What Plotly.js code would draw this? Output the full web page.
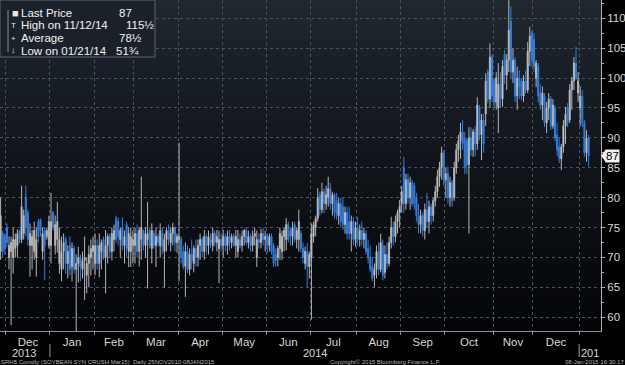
<!DOCTYPE html>
<html><head><meta charset="utf-8">
<script src="https://cdn.plot.ly/plotly-3.0.1.min.js"></script>
<style>html,body{margin:0;padding:0;background:#000;}#chart{width:625px;height:365px;}</style>
</head><body><div id="chart"></div>
<script>
// Daily OHLC rows [open, high, low, close], one named array per month
const nov2013 = [[72,76,70,74],[71,80,69.6,77],[74,74.5,70,71],[73.5,74,70.5,71.5]];
const dec2013 = [[75,75.7,71.7,72.5],[70,73.5,68,72],[71,73.5,58.7,72.5],[70,75,67.3,73],[71.5,74,70,73],[72,74.7,70,74],[74.5,74.7,72.4,73],[73,82,72.4,78.5],[74,78,73,77],[80,82,73.5,75],[77.5,78,72,73],[72,75.7,66.8,74],[72,74.6,68,73.5],[71,76,69.6,74.5],[70,75,66.8,73],[76,76.5,72.5,73.5],[76.3,76.5,73.5,74.5],[71,75,69.6,74],[74.5,75,66.2,72],[73.5,75,73,74.5],[72,77,71.5,76]];
const jan2014 = [[72,80.8,69,76],[77.5,77.8,74.5,75],[72,77,70.5,75.5],[73,79.3,70.8,76],[69,75,67.3,73],[68,73.5,66,71],[71,74,68,72.5],[73,73.5,67.3,69],[69,72,66.5,71],[72,73.5,67,68],[68.5,72.5,66,71.5],[71.5,72,67.3,68],[68,70.5,51.75,69],[69,71.8,65.8,70],[70,70.5,66,68.5],[68,71,66.5,69.5],[69.5,73.5,62.9,70],[67,70,64,69],[69,72,65,70.5],[70,73,67,71.5],[71,73.5,68,72]];
const feb2014 = [[69,74,67,72],[72,73,68,69],[69,74,66.7,72],[71,73,68,72.5],[73,73.5,69.6,70],[70,74.6,64,72],[72,74,69,73.5],[73.5,74,70,71],[71,75,69.5,74],[73,75.5,71,74.5],[76.5,77,72.4,73],[76,76.7,72,73.5],[73,75,70,74.5],[75,76.7,71.2,72],[72,74.5,69,73.5],[75.5,76,70,71.5],[71,75,68.4,74],[71,75,68.4,73.5],[72,74.5,69,73]];
const mar2014 = [[72,75,69,74],[74,75.5,70,71],[71,75,68.5,74.5],[73,83.5,69.6,75],[74.5,74.6,71.2,72],[72,75,70,74],[73,79.3,64.8,74],[74.5,75,71.5,72],[71.5,75.7,69,74.5],[74,74.5,71.5,72],[72,75,68.4,73.5],[73.5,74,71.8,72.5],[72,75.7,70,74.5],[74,75,70.5,71.8],[71,74,65,73],[73,75,71,74.5],[74.5,75.5,72,73],[72.5,75,71,74],[74,75.8,72,75],[75,75.2,71,72.5],[72.5,74,70.8,73.5]];
const apr2014 = [[73,89.2,66,73.5],[73,73.5,69,70],[71,72,68,68.5],[68.5,72.5,63.4,71],[71,72,67.4,68],[68,71.5,67,70.5],[70.5,73,68,69.5],[69,72,67.5,71.5],[71.5,73,68.5,70],[70,73,68.5,72],[72,74,69.6,73],[73,73.5,70,71],[71,74.6,69.6,73.5],[73.5,74,70.5,72],[72,74.5,70.5,73.5],[73,74,71.5,72.5],[72,75,71,74],[74,74.5,71.8,72.5],[72.5,74.6,71,73.5],[71.5,74.5,65.7,73],[73,74,71,72]];
const may2014 = [[72,74.6,70,73.5],[73.5,74,71,72],[72,74.5,70.5,73.5],[73.5,74.6,71.2,72.5],[72.5,74,71.5,73.5],[73.5,74,71.8,72],[72,74.6,70,73.5],[71,74.6,70,73],[73,74,71.5,72],[72,74.5,71,73.5],[73.5,74.8,72,74.5],[74.5,75,72,72.5],[72.5,74.5,71.5,73.5],[73.5,74,71,72],[72,74.5,71,73.5],[73.5,75,72,74],[70,74.5,68.4,73],[73,74,71.5,72.5],[72.5,74.8,71.5,74],[74,75,72,73],[73,74.5,71,73.5]];
const jun2014 = [[73.5,74,70.7,72],[72,74,71,73.5],[73.5,74,70.5,71],[72,72.4,68.4,69],[70.5,71.5,68.5,69.5],[70,72,68.5,71.5],[71.5,75,69.6,74],[71,74.5,69.6,73.5],[73.5,75,71,74.5],[73,76.6,71.2,75.5],[75.5,76,72.5,73],[74.5,75,72,73.5],[73.5,76,72,75],[75.5,76,72.5,73],[73,75,71.5,74.5],[73,78,71,76],[74,74.5,70.8,71.5],[71.5,72.5,69,70],[69,71.8,68,71],[71,72.4,65,68.5],[68.5,71,66.5,70.5]];
const jul2014 = [[70,75.7,59.6,74],[73.5,76,72.5,75.5],[75,77,73.5,76.5],[76.5,81.6,76,80],[80.5,81,77,78],[78,82.5,77.4,81],[81,81.5,77.4,79],[79,82,78,80.5],[80,83.5,78.5,81.5],[81.5,82.5,78,79],[79,81,77,80.5],[80.5,80.8,76.5,77.5],[79.5,80.8,76.3,77],[77,80,75.5,79],[79,80,75,76],[78.5,80,74.6,75.5],[75.5,78.5,74,77.5],[77.5,78.5,73,74],[76,78.5,73,74],[74,77,71,76],[76,76.8,72,73],[73,76,71.8,75]];
const aug2014 = [[75,76.8,72,73],[73,75.5,71.8,74.5],[74.5,76,72,73],[73,75,71.5,74],[74,74.5,70.5,71],[71.5,73,69,70],[70,72,67.5,68],[68.5,70,66,66.5],[67,69,65,68],[68,72,66.5,71],[71,72.5,67,68],[68,74,67.5,72.5],[72,73,66.2,67],[67.5,72,66.5,70.5],[70.5,72.5,68,69],[69,73.5,68.5,72.5],[72.5,76.8,71.5,75],[75,76,72,73.5],[73.5,77,72.5,76],[76,78,74,77.5],[77.5,79.6,75,78.5]];
const sep2014 = [[79,82,77.5,81],[85,86.8,77.4,79],[79,84,78,83],[83,84,79,80],[80,83.5,78,82.5],[82.5,83,78.5,79],[82,82.5,78,79],[80,80.8,76,77],[77,79,74,75.5],[75.5,78,74,77],[77,77.5,73.5,74.5],[74.5,79,73,78],[78,80.8,75,76],[76,79.5,74,78.5],[78.5,79,75.5,77],[77,80,76,79.5],[79.5,82,78.5,81],[81,84.6,80,83.5],[83.5,86,81.8,85],[85,88.5,83,87.5],[87.5,88,82,83]];
const oct2014 = [[83,85,80,84],[84,85.2,79,80],[80,83.5,78.5,82.5],[82.5,83,78.5,79.5],[80,86,79.5,85],[85,89,84,88],[88,90.5,86,89.5],[89.5,92.5,86.5,91],[91,93,88,89],[90,91,84,85],[89.5,90,84,85.5],[85.5,91.8,74,90],[90,91.8,87,88],[88,91.5,86.8,91],[91,92,87,89],[89,96.8,88,95.5],[95,95.5,89.6,90.5],[90.5,94,86.3,93],[93,94,87.5,89],[94,100.8,92,99.5],[101,101.5,95.8,96.5],[96.5,105.8,95,103.5],[103.5,104,96,97]];
const nov2014 = [[99.5,100,95,96],[96,101,94.7,100],[95,102.5,90.8,99],[99,101,95,96.5],[96.5,103,95.2,102],[104,104.7,99,100.5],[100.5,104,98,103],[103,115.5,101,108],[109.5,112,100,101],[101,105,99.2,103],[103,103.5,96,97],[97,101.9,94.7,100],[100,101.3,96.5,98.5],[99.5,100,96.3,97],[97,100.5,96,99.5],[99.5,101.3,97.5,98],[98,106,97.5,104.5],[104.5,108.6,102,107],[107.5,108,101.9,103]];
const dec2014 = [[106.5,107.5,101,102],[100,103,98.5,102.5],[102,102.5,96,97],[97.5,99,94.7,95.5],[95.5,98.6,93,97.5],[97,97.5,91.8,92.5],[92.5,96,90.8,95],[95,97.5,93,96.5],[96.5,97,91.3,92],[92,96.5,91.5,95.5],[95,95.5,89.5,90],[90.5,92.5,87,88],[88.5,90,85.8,86.5],[86.5,89,84.6,88.5],[88.5,93,87.5,92],[92,95.2,89,94],[95,95.8,91.8,92.5],[93,99,92.5,98],[98,100.2,94.7,99.5],[99.5,103.5,98,102.5],[102.5,105.2,99.7,100],[97.5,101,96,99.5]];
const jan2015 = [[95,98.6,92,97],[97,98,91.8,92.5],[92.5,93,86.8,87.5],[87.5,91.3,86,90],[90,90.5,85.2,87]];

const monthData   = [nov2013, dec2013, jan2014, feb2014, mar2014, apr2014, may2014, jun2014, jul2014, aug2014, sep2014, oct2014, nov2014, dec2014, jan2015];
const monthLabels = ['', 'Dec', 'Jan', 'Feb', 'Mar', 'Apr', 'May', 'Jun', 'Jul', 'Aug', 'Sep', 'Oct', 'Nov', 'Dec', ''];
const yearLabels  = ['2013', '2014', '201'];
const yearFirstMonth = [0, 2, 14];   // index into monthData where each year starts
const lastPrice = 87;
const legendRows = [
  {icon: '\u25A0', label: 'Last Price', value: '87'},
  {icon: 'T', label: 'High on 11/12/14', value: '115\u00BD'},
  {icon: '+', label: 'Average', value: '78\u00BD'},
  {icon: '\u2193', label: 'Low on 01/21/14', value: '51\u00BE'}
];
const footerLeft = 'SRH5 Comdty (SOYBEAN SYN CRUSH Mar15)  Daily 25NOV2010-08JAN2015';
const footerMid = 'Copyright\u00A9 2015 Bloomberg Finance L.P.';
const footerRight = '08-Jan-2015 16:30:17';

// build series (trading-day index as x)
const X = [], O = [], H = [], L = [], C = [], starts = [];
let idx = 0;
monthData.forEach(m => { starts.push(idx); m.forEach(r => { X.push(idx); O.push(r[0]); H.push(r[1]); L.push(r[2]); C.push(r[3]); idx++; }); });
const nDays = idx;
const ends = starts.map((s, k) => (k + 1 < starts.length ? starts[k + 1] : nDays));

const PW = 601, PH = 331;
const pxX = p => p / PW;           // pixel -> paper x
const pxY = p => 1 - p / PH;       // pixel -> paper y
const FONT = 'Liberation Sans, Arial, sans-serif';

const shapes = [];
// plot background gradient
const NB = 40;
for (let k = 0; k < NB; k++) {
  const t = (k + 0.5) / NB; // 0 bottom -> 1 top
  const c0 = [4, 5, 8], c1 = [31, 39, 48];
  const f = Math.pow(t, 1.1);
  const col = c0.map((v, j) => Math.round(v + (c1[j] - v) * f));
  shapes.push({type: 'rect', xref: 'paper', yref: 'paper', x0: 0, x1: 1, y0: k / NB, y1: (k + 1) / NB + 0.002,
    fillcolor: `rgb(${col.join(',')})`, line: {width: 0}, layer: 'below'});
}
// legend box
shapes.push({type: 'rect', xref: 'paper', yref: 'paper', x0: 0, x1: pxX(155), y0: pxY(57), y1: 1,
  fillcolor: '#1b2129', line: {color: '#5d6873', width: 1}, layer: 'above'});
shapes.push({type: 'line', xref: 'paper', yref: 'paper', x0: pxX(8), x1: pxX(8), y0: pxY(10), y1: pxY(52),
  line: {color: '#8a8f96', width: 1}, layer: 'above'});
// year separators
yearFirstMonth.slice(1).forEach(mi => {
  shapes.push({type: 'line', xref: 'x', yref: 'paper', x0: starts[mi] - 0.5, x1: starts[mi] - 0.5,
    y0: pxY(344), y1: pxY(357), line: {color: '#9a9a9a', width: 1}});
});
// last price tag pointer
shapes.push({type: 'path', xref: 'paper', yref: 'y',
  path: `M 1.0,${lastPrice} L ${pxX(606)},${lastPrice + 1.1} L ${pxX(606)},${lastPrice - 1.1} Z`,
  fillcolor: '#f2f2f2', line: {width: 0}});

const annotations = [];
// year labels
yearLabels.forEach((t, k) => {
  const s = starts[yearFirstMonth[k]];
  const e = k + 1 < yearFirstMonth.length ? starts[yearFirstMonth[k + 1]] : null;
  if (e !== null) {
    annotations.push({xref: 'x', yref: 'paper', x: (s + e) / 2 - 0.5, y: pxY(352.5), text: t, showarrow: false,
      xanchor: 'center', yanchor: 'middle', borderpad: 0, font: {family: FONT, size: 11, color: '#d6d6d6'}});
  } else {
    annotations.push({xref: 'x', yref: 'paper', x: s - 0.5, xshift: 1, y: pxY(352.5), text: t, showarrow: false,
      xanchor: 'left', yanchor: 'middle', borderpad: 0, font: {family: FONT, size: 11, color: '#d6d6d6'}});
  }
});
// legend rows
const rowY = [13, 25.5, 38, 50.5];
const valX = [117, 124, 117, 114];
legendRows.forEach((r, k) => {
  annotations.push({xref: 'paper', yref: 'paper', x: pxX(r.icon === '\u25A0' ? 10 : 9), y: pxY(rowY[k]), text: r.icon, showarrow: false,
    xanchor: 'left', yanchor: 'middle', font: {family: FONT, size: r.icon === '\u25A0' ? 11 : 8, color: '#e8e8e8'}});
  annotations.push({xref: 'paper', yref: 'paper', x: pxX(19), y: pxY(rowY[k]), text: r.label, showarrow: false,
    xanchor: 'left', yanchor: 'middle', font: {family: FONT, size: 11.5, color: '#f2f2f2'}});
  annotations.push({xref: 'paper', yref: 'paper', x: pxX(valX[k]), y: pxY(rowY[k]), text: r.value, showarrow: false,
    xanchor: 'left', yanchor: 'middle', font: {family: FONT, size: 11.5, color: '#f2f2f2'}});
});
// last price tag
annotations.push({xref: 'paper', yref: 'y', x: pxX(605), y: lastPrice, text: String(lastPrice), showarrow: false,
  xanchor: 'left', yanchor: 'middle', bgcolor: '#f2f2f2', borderpad: 0, font: {family: FONT, size: 11.5, color: '#000'}});
// footer
annotations.push({xref: 'paper', yref: 'paper', x: 0, y: pxY(362), text: footerLeft, showarrow: false,
  xanchor: 'left', yanchor: 'middle', borderpad: 0, font: {family: FONT, size: 6, color: '#b5b5b5'}});
annotations.push({xref: 'paper', yref: 'paper', x: pxX(385), y: pxY(362), text: footerMid, showarrow: false,
  xanchor: 'center', yanchor: 'middle', borderpad: 0, font: {family: FONT, size: 6, color: '#b5b5b5'}});
annotations.push({xref: 'paper', yref: 'paper', x: pxX(625), y: pxY(362), text: footerRight, showarrow: false,
  xanchor: 'right', yanchor: 'middle', borderpad: 0, font: {family: FONT, size: 6, color: '#b5b5b5'}});

const trace = {
  type: 'candlestick', x: X, open: O, high: H, low: L, close: C,
  increasing: {line: {color: '#b4b4b4', width: 1}, fillcolor: '#e6e6e6'},
  decreasing: {line: {color: '#2f7fe0', width: 1}, fillcolor: '#2f7fe0'},
  whiskerwidth: 0, hoverinfo: 'skip', showlegend: false
};

const monthCenters = [], monthText = [];
monthLabels.forEach((t, k) => { if (t) { monthCenters.push((starts[k] + ends[k] - 1) / 2); monthText.push(t); } });

const layout = {
  width: 625, height: 365,
  margin: {l: 0, r: 24, t: 0, b: 34, pad: 0},
  paper_bgcolor: '#000000', plot_bgcolor: 'rgba(0,0,0,0)',
  showlegend: false,
  xaxis: {
    range: [0.714, 286.9], rangeslider: {visible: false},
    tickmode: 'array', tickvals: monthCenters, ticktext: monthText,
    ticks: '', showgrid: false,
    tickfont: {family: FONT, size: 11.5, color: '#d6d6d6'},
    minor: {tickmode: 'array', tickvals: starts.slice(1).map(s => s - 0.5),
      ticks: 'outside', ticklen: 3, tickcolor: '#8c8c8c',
      showgrid: true, gridcolor: '#4a545f', griddash: 'dot', gridwidth: 1},
    showline: true, linecolor: '#8c8c8c', linewidth: 1, zeroline: false, fixedrange: true
  },
  yaxis: {
    side: 'right', range: [57.7, 113.06], dtick: 5, tick0: 60,
    tickfont: {family: FONT, size: 11.5, color: '#d6d6d6'},
    ticks: 'outside', ticklen: 3, tickcolor: '#b0b0b0',
    minor: {dtick: 2.5, ticks: 'outside', ticklen: 2, tickcolor: '#b0b0b0', showgrid: false},
    showgrid: true, gridcolor: '#4a545f', griddash: 'dot', gridwidth: 1,
    showline: true, linecolor: '#b0b0b0', linewidth: 1, zeroline: false, fixedrange: true
  },
  shapes: shapes, annotations: annotations
};

Plotly.newPlot('chart', [trace], layout, {staticPlot: true, displayModeBar: false});
</script>
</body></html>
